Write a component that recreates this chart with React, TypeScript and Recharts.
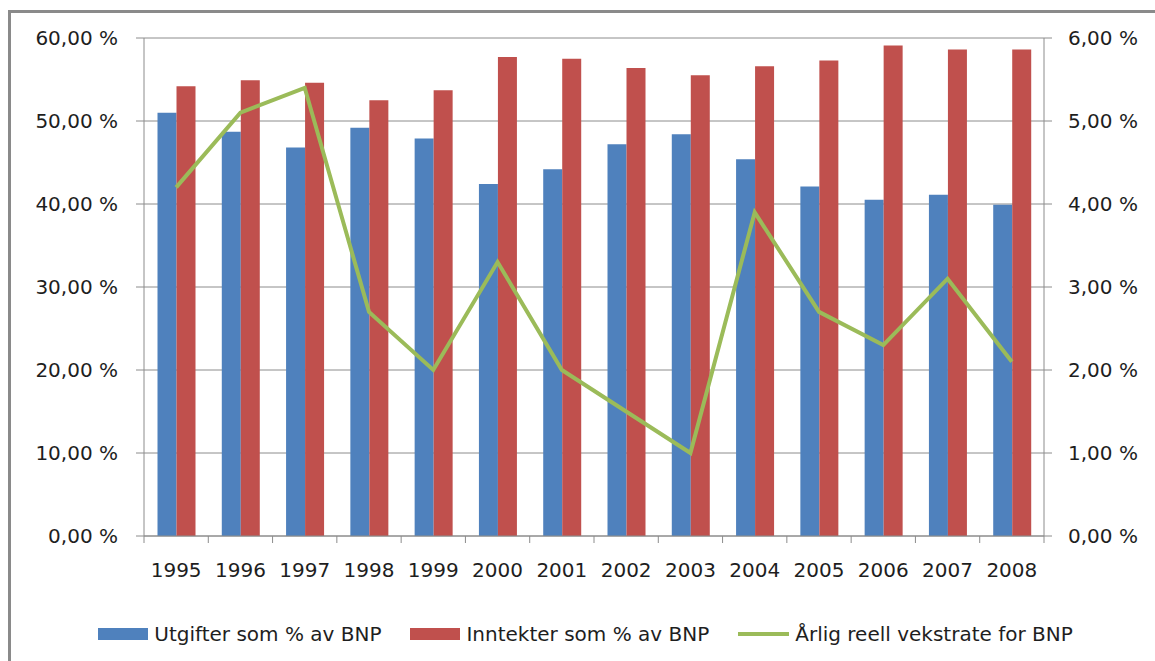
import React from 'react';
import { ComposedChart, Bar, Line, XAxis, YAxis, CartesianGrid, Legend } from 'recharts';

const years = ['1995', '1996', '1997', '1998', '1999', '2000', '2001', '2002', '2003', '2004', '2005', '2006', '2007', '2008'];
const utgifter = [51.0, 48.7, 46.8, 49.2, 47.9, 42.4, 44.2, 47.2, 48.4, 45.4, 42.1, 40.5, 41.1, 39.9];
const inntekter = [54.2, 54.9, 54.6, 52.5, 53.7, 57.7, 57.5, 56.4, 55.5, 56.6, 57.3, 59.1, 58.6, 58.6];
const vekst = [4.2, 5.1, 5.4, 2.7, 2.0, 3.3, 2.0, 1.5, 1.0, 3.9, 2.7, 2.3, 3.1, 2.1];

const leftTicks = [0, 10, 20, 30, 40, 50, 60];
const rightTicks = [0, 1, 2, 3, 4, 5, 6];

const BLUE = '#4F81BD';
const RED = '#C0504D';
const GREEN = '#9BBB59';
const GRID = '#8c8c8c';
const TEXT = '#1e1e1e';
const FONT = '"DejaVu Sans", sans-serif';

const W = 1155;
const H = 661;
const LEFT_W = 144;
const RIGHT_W = 111;
const BAND = (W - LEFT_W - RIGHT_W) / years.length;

const legendItems = [
  { label: 'Utgifter som % av BNP', color: BLUE, kind: 'box' },
  { label: 'Inntekter som % av BNP', color: RED, kind: 'box' },
  { label: 'Årlig reell vekstrate for BNP', color: GREEN, kind: 'line' },
];

const data = years.map((year, i) => ({
  year,
  utgifter: utgifter[i],
  inntekter: inntekter[i],
  vekst: vekst[i],
}));

const pct = (v: number) => `${v.toFixed(2).replace('.', ',')} %`;

// year label plus the Excel-style tick marks between categories
function YearTick(props: any) {
  const { x, y, payload, index } = props;
  const axisY = y - 27;
  const left = x - BAND / 2;
  const right = x + BAND / 2;
  return (
    <g>
      <line x1={left} x2={left} y1={axisY} y2={axisY + 7} stroke={GRID} />
      {index === years.length - 1 && <line x1={right} x2={right} y1={axisY} y2={axisY + 7} stroke={GRID} />}
      <text x={x} y={y} dy="0.71em" textAnchor="middle" fill={TEXT} fontFamily={FONT} fontSize={20}>
        {payload.value}
      </text>
    </g>
  );
}

function LegendBox() {
  return (
    <div
      style={{
        height: 75,
        paddingTop: 36,
        boxSizing: 'border-box',
        display: 'flex',
        justifyContent: 'center',
        gap: 29,
        fontFamily: FONT,
        fontSize: 20,
        color: TEXT,
        paddingLeft: 16,
      }}
    >
      {legendItems.map((it) => (
        <div key={it.label} style={{ display: 'flex', alignItems: 'center', height: 24 }}>
          {it.kind === 'box' ? (
            <span style={{ width: 50, height: 12, background: it.color, marginRight: 6 }} />
          ) : (
            <span style={{ width: 51, height: 4, background: it.color, marginRight: 6 }} />
          )}
          <span>{it.label}</span>
        </div>
      ))}
    </div>
  );
}

export default function App() {
  return (
    <div style={{ position: 'absolute', left: 0, top: 0, width: W, height: H, overflow: 'hidden', background: '#fff' }}>
      <div
        style={{
          position: 'absolute',
          left: 8,
          top: 10,
          width: 1200,
          height: 700,
          border: '3px solid #8a8a8a',
        }}
      />
      <div style={{ position: 'absolute', left: 0, top: 0 }}>
        <ComposedChart
          width={W}
          height={H}
          data={data}
          margin={{ top: 38, right: 0, bottom: 0, left: 0 }}
          barCategoryGap="21%"
          barGap={0}
        >
          <CartesianGrid yAxisId="left" vertical={false} stroke={GRID} />
          <XAxis
            dataKey="year"
            height={50}
            tickLine={false}
            tickSize={7}
            tickMargin={20}
            axisLine={{ stroke: GRID }}
            tick={<YearTick />}
            interval={0}
          />
          <YAxis
            yAxisId="left"
            domain={[0, 60]}
            ticks={leftTicks}
            width={LEFT_W}
            tickSize={8}
            tickMargin={18}
            tickFormatter={pct}
            axisLine={{ stroke: GRID }}
            tickLine={{ stroke: GRID }}
            tick={{ fill: TEXT, fontFamily: FONT, fontSize: 20 }}
          />
          <YAxis
            yAxisId="right"
            orientation="right"
            domain={[0, 6]}
            ticks={rightTicks}
            width={RIGHT_W}
            tickSize={8}
            tickMargin={16}
            tickFormatter={pct}
            axisLine={{ stroke: GRID }}
            tickLine={{ stroke: GRID }}
            tick={{ fill: TEXT, fontFamily: FONT, fontSize: 20 }}
          />
          <Legend verticalAlign="bottom" height={75} content={() => <LegendBox />} />
          <Bar yAxisId="left" dataKey="utgifter" name="Utgifter som % av BNP" fill={BLUE} isAnimationActive={false} />
          <Bar yAxisId="left" dataKey="inntekter" name="Inntekter som % av BNP" fill={RED} isAnimationActive={false} />
          <Line
            yAxisId="right"
            type="linear"
            dataKey="vekst"
            name="Årlig reell vekstrate for BNP"
            stroke={GREEN}
            strokeWidth={4}
            dot={false}
            isAnimationActive={false}
          />
        </ComposedChart>
      </div>
    </div>
  );
}
